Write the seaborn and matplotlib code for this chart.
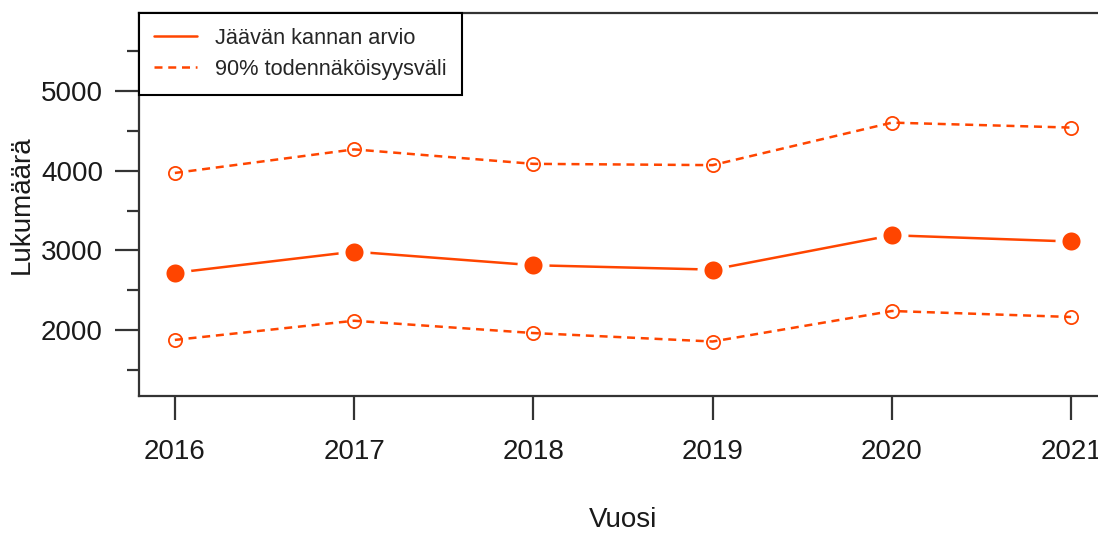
import numpy as np
import pandas as pd
import seaborn as sns
import matplotlib.pyplot as plt
from matplotlib.lines import Line2D
from matplotlib.ticker import MultipleLocator

sns.set_theme(style="ticks")
plt.rcParams['font.family'] = ['Liberation Sans', 'DejaVu Sans']

# values
years = [2016, 2017, 2018, 2019, 2020, 2021]
estimate = [2720, 2985, 2815, 2760, 3190, 3112]
upper = [3970, 4265, 4084, 4068, 4600, 4538]
lower = [1880, 2120, 1966, 1860, 2242, 2167]

label_est = "Jäävän kannan arvio"
label_ci = "90% todennäköisyysväli"
col = "#ff4500"
axcol = "#333333"

df = pd.DataFrame({"Vuosi": years, "arvio": estimate, "yla": upper, "ala": lower})

fig = plt.figure(figsize=(10.98, 5.34), dpi=100)
ax = fig.add_axes([139/1098, 138/534, 968/1098, 383.3/534])

for c in ["yla", "ala"]:
    sns.lineplot(data=df, x="Vuosi", y=c, ax=ax, color=col, linewidth=1.8,
                 marker="o", markersize=9.5, markerfacecolor="none",
                 markeredgecolor=col, markeredgewidth=1.3)
    ax.lines[-1].set_dashes((3.2, 2.3))

sns.lineplot(data=df, x="Vuosi", y="arvio", ax=ax, color=col, linewidth=1.8,
             marker="o", markersize=18, markerfacecolor=col,
             markeredgecolor="white", markeredgewidth=5)

ax.set_xlim(2015.8, 2021.2)
ax.set_ylim(1178, 5976)
ax.set_xticks(years)
ax.set_xticklabels([str(y) for y in years])
ax.set_yticks([2000, 3000, 4000, 5000])
ax.yaxis.set_minor_locator(MultipleLocator(500))

for s in ax.spines.values():
    s.set_color(axcol)
    s.set_linewidth(1.6)

ax.tick_params(axis='both', which='major', length=17, width=1.6, color=axcol,
               labelsize=20, labelcolor="#1a1a1a")
ax.tick_params(axis='y', which='major', pad=9)
ax.tick_params(axis='x', which='major', pad=14)
ax.tick_params(axis='y', which='minor', length=9, width=1.6, color=axcol)

ax.set_xlabel("Vuosi", fontsize=20, color="#1a1a1a")
ax.set_ylabel("Lukumäärä", fontsize=20, color="#1a1a1a")
ax.xaxis.set_label_coords(0.5, -0.29)
ax.yaxis.set_label_coords(-0.108, 0.5)

handles = [Line2D([], [], color=col, linewidth=1.8),
           Line2D([], [], color=col, linewidth=1.8, dashes=(3.2, 2.3))]
leg = ax.legend(handles, [label_est, label_ci], loc="upper left",
                bbox_to_anchor=(0, 1), borderaxespad=0, fontsize=15.7,
                frameon=True, fancybox=False, handlelength=1.95,
                handletextpad=0.85, borderpad=0.7, labelspacing=0.45)
leg.get_frame().set_edgecolor("black")
leg.get_frame().set_linewidth(1.5)
leg.get_frame().set_alpha(1)

fig.savefig("out.png", dpi=100)
